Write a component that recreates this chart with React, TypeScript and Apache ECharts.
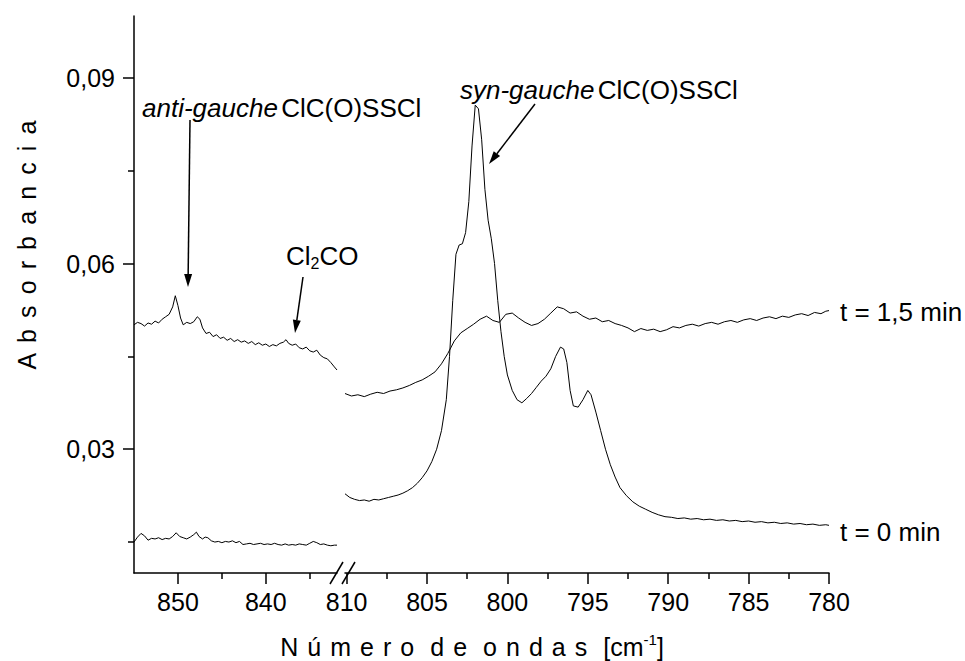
import React, { useEffect, useRef } from "react";
import * as echarts from "echarts";

const FONT = '"Liberation Sans", Arial, sans-serif';

// Left segment (855 -> ~832 cm-1)
const t15Left: [number, number][] = [
  [855.0,0.0501],[854.6,0.0505],[854.2,0.0503],[853.8,0.0499],[853.4,0.0504],[853.0,0.0502],[852.6,0.0507],[852.2,0.0504],
  [851.8,0.0510],[851.4,0.0514],[851.0,0.0518],[850.6,0.0530],[850.3,0.0548],[850.0,0.0532],[849.7,0.0512],[849.4,0.0501],
  [849.0,0.0505],[848.6,0.0503],[848.2,0.0506],[847.8,0.0514],[847.5,0.0510],[847.2,0.0496],[846.8,0.0487],[846.4,0.0489],
  [846.0,0.0482],[845.6,0.0485],[845.2,0.0479],[844.8,0.0481],[844.4,0.0476],[844.0,0.0479],[843.6,0.0474],[843.2,0.0477],
  [842.8,0.0473],[842.4,0.0475],[842.0,0.0471],[841.6,0.0474],[841.2,0.0469],[840.8,0.0472],[840.4,0.0468],[840.0,0.0470],
  [839.6,0.0466],[839.2,0.0469],[838.8,0.0467],[838.4,0.0471],[838.0,0.0473],[837.7,0.0477],[837.4,0.0471],[837.0,0.0468],
  [836.6,0.0470],[836.2,0.0464],[835.8,0.0462],[835.4,0.0465],[835.0,0.0459],[834.6,0.0457],[834.2,0.0460],[833.8,0.0452],
  [833.4,0.0448],[833.0,0.0446],[832.6,0.0440],[832.2,0.0433],[831.9,0.0428]
];
const t0Left: [number, number][] = [
  [855.0,0.0150],[854.6,0.0158],[854.2,0.0164],[853.8,0.0160],[853.4,0.0153],[853.0,0.0156],[852.6,0.0155],[852.2,0.0157],
  [851.8,0.0154],[851.4,0.0156],[851.0,0.0155],[850.6,0.0159],[850.2,0.0165],[849.8,0.0159],[849.4,0.0157],[849.0,0.0155],
  [848.6,0.0158],[848.2,0.0162],[847.9,0.0166],[847.6,0.0159],[847.2,0.0155],[846.9,0.0158],[846.6,0.0157],[846.2,0.0152],
  [845.8,0.0150],[845.4,0.0151],[845.0,0.0149],[844.6,0.0151],[844.2,0.0150],[843.8,0.0152],[843.4,0.0149],[843.0,0.0151],
  [842.6,0.0146],[842.2,0.0147],[841.8,0.0148],[841.4,0.0146],[841.0,0.0147],[840.6,0.0148],[840.2,0.0146],[839.8,0.0147],
  [839.4,0.0146],[839.0,0.0148],[838.6,0.0146],[838.2,0.0145],[837.8,0.0147],[837.4,0.0145],[837.0,0.0146],[836.6,0.0145],
  [836.2,0.0147],[835.8,0.0146],[835.4,0.0145],[835.0,0.0148],[834.6,0.0151],[834.2,0.0149],[833.8,0.0146],[833.4,0.0147],
  [833.0,0.0145],[832.6,0.0144],[832.2,0.0145],[831.9,0.0145]
];

// Right segment (810 -> 780 cm-1)
const t0Right: [number, number][] = [
  [810.1,0.0228],[809.8,0.0222],[809.5,0.0219],[809.2,0.0217],[808.9,0.0218],[808.6,0.0216],[808.3,0.0219],[808.0,0.0218],
  [807.7,0.0220],[807.4,0.0222],[807.1,0.0224],[806.8,0.0226],[806.5,0.0229],[806.2,0.0233],[805.9,0.0238],[805.6,0.0245],
  [805.3,0.0254],[805.0,0.0265],[804.7,0.0280],[804.4,0.0300],[804.1,0.0330],[803.8,0.0380],[803.6,0.0450],[803.4,0.0540],
  [803.2,0.0615],[803.0,0.0630],[802.8,0.0632],[802.6,0.0650],[802.4,0.0700],[802.2,0.0790],[802.0,0.0856],[801.8,0.0850],
  [801.6,0.0800],[801.4,0.0720],[801.2,0.0670],[801.0,0.0640],[800.8,0.0600],[800.6,0.0540],[800.4,0.0490],[800.2,0.0450],
  [800.0,0.0420],[799.7,0.0395],[799.4,0.0380],[799.1,0.0375],[798.8,0.0382],[798.5,0.0390],[798.2,0.0400],[797.9,0.0410],
  [797.6,0.0418],[797.3,0.0430],[797.0,0.0450],[796.7,0.0465],[796.5,0.0462],[796.3,0.0440],[796.1,0.0395],[795.9,0.0370],
  [795.6,0.0368],[795.3,0.0380],[795.0,0.0395],[794.8,0.0388],[794.5,0.0360],[794.2,0.0330],[793.9,0.0300],[793.6,0.0275],
  [793.3,0.0255],[793.0,0.0238],[792.6,0.0225],[792.2,0.0215],[791.8,0.0208],[791.4,0.0203],[791.0,0.0198],[790.6,0.0194],
  [790.2,0.0191],[789.8,0.0190],[789.4,0.0188],[789.0,0.0189],[788.6,0.0187],[788.2,0.0188],[787.8,0.0186],[787.4,0.0187],
  [787.0,0.0185],[786.6,0.0186],[786.2,0.0184],[785.8,0.0185],[785.4,0.0183],[785.0,0.0184],[784.6,0.0182],[784.2,0.0183],
  [783.8,0.0181],[783.4,0.0182],[783.0,0.0180],[782.6,0.0181],[782.2,0.0179],[781.8,0.0180],[781.4,0.0178],[781.0,0.0179],
  [780.6,0.0177],[780.2,0.0178],[780.0,0.0177]
];
const t15Right: [number, number][] = [
  [810.1,0.0390],[809.7,0.0386],[809.3,0.0388],[808.9,0.0385],[808.5,0.0389],[808.1,0.0392],[807.7,0.0390],[807.3,0.0394],
  [806.9,0.0396],[806.5,0.0399],[806.1,0.0403],[805.7,0.0408],[805.3,0.0412],[804.9,0.0418],[804.5,0.0425],[804.1,0.0438],
  [803.7,0.0455],[803.3,0.0475],[802.9,0.0488],[802.5,0.0495],[802.1,0.0502],[801.7,0.0510],[801.3,0.0515],[800.9,0.0508],
  [800.5,0.0505],[800.1,0.0518],[799.7,0.0520],[799.3,0.0512],[798.9,0.0505],[798.5,0.0500],[798.1,0.0503],[797.7,0.0510],
  [797.3,0.0520],[796.9,0.0530],[796.5,0.0527],[796.1,0.0520],[795.7,0.0522],[795.3,0.0515],[794.9,0.0510],[794.5,0.0512],
  [794.1,0.0506],[793.7,0.0508],[793.3,0.0503],[792.9,0.0500],[792.5,0.0496],[792.1,0.0490],[791.7,0.0495],[791.3,0.0492],
  [790.9,0.0494],[790.5,0.0490],[790.1,0.0493],[789.7,0.0498],[789.3,0.0496],[788.9,0.0500],[788.5,0.0502],[788.1,0.0499],
  [787.7,0.0503],[787.3,0.0505],[786.9,0.0502],[786.5,0.0506],[786.1,0.0508],[785.7,0.0505],[785.3,0.0509],[784.9,0.0511],
  [784.5,0.0508],[784.1,0.0512],[783.7,0.0514],[783.3,0.0511],[782.9,0.0515],[782.5,0.0513],[782.1,0.0517],[781.7,0.0519],
  [781.3,0.0516],[780.9,0.0521],[780.5,0.0519],[780.2,0.0523],[780.0,0.0524]
];

const leftMajorTicks = [850, 840];
const leftMinorTicks = [845, 835];
const rightMajorTicks = [810, 805, 800, 795, 790, 785, 780];
const rightMinorTicks = [807.5, 802.5, 797.5, 792.5, 787.5, 782.5];
const yMajorTicks = [0.03, 0.06, 0.09];
const yMinorTicks = [0.015, 0.045, 0.075];

const HS = "\u200A";
function spaced(s: string, gap: string) {
  return s
    .split(" ")
    .map((w) => w.split("").join(gap))
    .join(gap + " ");
}

function arrow(x1: number, y1: number, x2: number, y2: number) {
  const dx = x2 - x1, dy = y2 - y1;
  const len = Math.sqrt(dx * dx + dy * dy);
  const ux = dx / len, uy = dy / len;
  const hl = 13, hw = 4;
  const bx = x2 - ux * hl, by = y2 - uy * hl;
  return [
    { type: "line", shape: { x1, y1, x2: bx, y2: by }, style: { stroke: "#000", lineWidth: 1.5 }, silent: true },
    {
      type: "polygon",
      shape: { points: [[x2, y2], [bx - uy * hw, by + ux * hw], [bx + uy * hw, by - ux * hw]] },
      style: { fill: "#000" },
      silent: true,
    },
  ];
}

export default function App() {
  const ref = useRef<HTMLDivElement>(null);
  useEffect(() => {
    const chart = echarts.init(ref.current!, null, { renderer: "svg" });
    const lineStyle = { color: "#000", width: 1.5 };
    const labelBase = { color: "#000", fontSize: 25, fontFamily: FONT };
    const mkX = (grid: number, min: number, max: number, major: number[], minor: number[]) => [
      {
        type: "value", gridIndex: grid, position: "bottom", min, max, inverse: true,
        axisLine: { show: true, lineStyle },
        axisTick: { show: true, customValues: major, length: 11, lineStyle },
        axisLabel: { ...labelBase, customValues: major, margin: 16, formatter: (v: number) => String(v) },
        splitLine: { show: false },
      },
      {
        type: "value", gridIndex: grid, position: "bottom", min, max, inverse: true,
        axisLine: { show: false },
        axisTick: { show: true, customValues: minor, length: 6, lineStyle },
        axisLabel: { show: false },
        splitLine: { show: false },
      },
    ];
    const seriesBase = { type: "line", showSymbol: false, symbol: "none", silent: true, lineStyle: { color: "#000", width: 1 } };
    const annRich = {
      i: { fontStyle: "italic", fontSize: 26, fontFamily: FONT },
      n: { fontSize: 26, fontFamily: FONT },
    };
    const option: any = {
      animation: false,
      backgroundColor: "#fff",
      grid: [
        { left: 134, top: 16, width: 203, height: 557 },
        { left: 345, top: 16, width: 484, height: 557 },
      ],
      xAxis: [
        ...mkX(0, 831.9, 855, leftMajorTicks, leftMinorTicks),
        ...mkX(1, 780, 810.1, rightMajorTicks, rightMinorTicks),
      ],
      yAxis: [
        {
          type: "value", gridIndex: 0, position: "left", min: 0.01, max: 0.1,
          axisLine: { show: true, lineStyle },
          axisTick: { show: true, customValues: yMajorTicks, length: 11, lineStyle },
          axisLabel: { ...labelBase, customValues: yMajorTicks, margin: 19, formatter: (v: number) => v.toFixed(2).replace(".", ",") },
          splitLine: { show: false },
        },
        {
          type: "value", gridIndex: 0, position: "left", min: 0.01, max: 0.1,
          axisLine: { show: false },
          axisTick: { show: true, customValues: yMinorTicks, length: 6, lineStyle },
          axisLabel: { show: false },
          splitLine: { show: false },
        },
        { type: "value", gridIndex: 1, min: 0.01, max: 0.1, show: false, splitLine: { show: false } },
      ],
      series: [
        { ...seriesBase, name: "t15L", xAxisIndex: 0, yAxisIndex: 0, data: t15Left },
        { ...seriesBase, name: "t0L", xAxisIndex: 0, yAxisIndex: 0, data: t0Left },
        { ...seriesBase, name: "t0R", xAxisIndex: 2, yAxisIndex: 2, data: t0Right },
        { ...seriesBase, name: "t15R", xAxisIndex: 2, yAxisIndex: 2, data: t15Right },
      ],
      graphic: [
        // axis break marks
        { type: "line", shape: { x1: 330, y1: 584, x2: 343, y2: 562 }, style: { stroke: "#000", lineWidth: 1.5 }, silent: true },
        { type: "line", shape: { x1: 342, y1: 584, x2: 355, y2: 562 }, style: { stroke: "#000", lineWidth: 1.5 }, silent: true },
        // annotations
        {
          type: "text", x: 142, y: 108, silent: true,
          style: { text: "{i|anti-gauche} {n|ClC(O)SSCl}", verticalAlign: "middle", fill: "#000", rich: annRich },
        },
        {
          type: "text", x: 460, y: 90, silent: true,
          style: { text: "{i|syn-gauche} {n|ClC(O)SSCl}", verticalAlign: "middle", fill: "#000", rich: annRich },
        },
        {
          type: "text", x: 286, y: 256, silent: true,
          style: {
            text: "{n|Cl}{s|2}{n|CO}", verticalAlign: "middle", fill: "#000",
            rich: {
              n: { fontSize: 26, fontFamily: FONT, lineHeight: 30 },
              s: { fontSize: 16, fontFamily: FONT, verticalAlign: "bottom", lineHeight: 30 },
            },
          },
        },
        ...arrow(190, 120, 188, 287),
        ...arrow(303, 277, 295, 333),
        ...arrow(535, 104, 489, 164),
        {
          type: "text", x: 840, y: 312, silent: true,
          style: { text: "t = 1,5 min", fontSize: 26, fontFamily: FONT, fill: "#000", verticalAlign: "middle" },
        },
        {
          type: "text", x: 840, y: 532, silent: true,
          style: { text: "t = 0 min", fontSize: 26, fontFamily: FONT, fill: "#000", verticalAlign: "middle" },
        },
        // axis titles
        {
          type: "text", x: 472, y: 647, silent: true,
          style: {
            text: "{n|" + spaced("Número de ondas", " " + HS) + " " + HS + " [cm}{s|-1}{n|]}",
            align: "center", verticalAlign: "middle", fill: "#000",
            rich: {
              n: { fontSize: 25, fontFamily: FONT, lineHeight: 30 },
              s: { fontSize: 15, fontFamily: FONT, verticalAlign: "top", lineHeight: 30 },
            },
          },
        },
        {
          type: "text", x: 27, y: 245, rotation: Math.PI / 2, silent: true,
          style: {
            text: spaced("Absorbancia", " " + HS + HS), fontSize: 25, fontFamily: FONT, fill: "#000",
            align: "center", verticalAlign: "middle",
          },
        },
      ],
    };
    chart.setOption(option);
    return () => chart.dispose();
  }, []);
  return <div ref={ref} style={{ position: "absolute", left: 0, top: 0, width: 965, height: 661 }} />;
}
